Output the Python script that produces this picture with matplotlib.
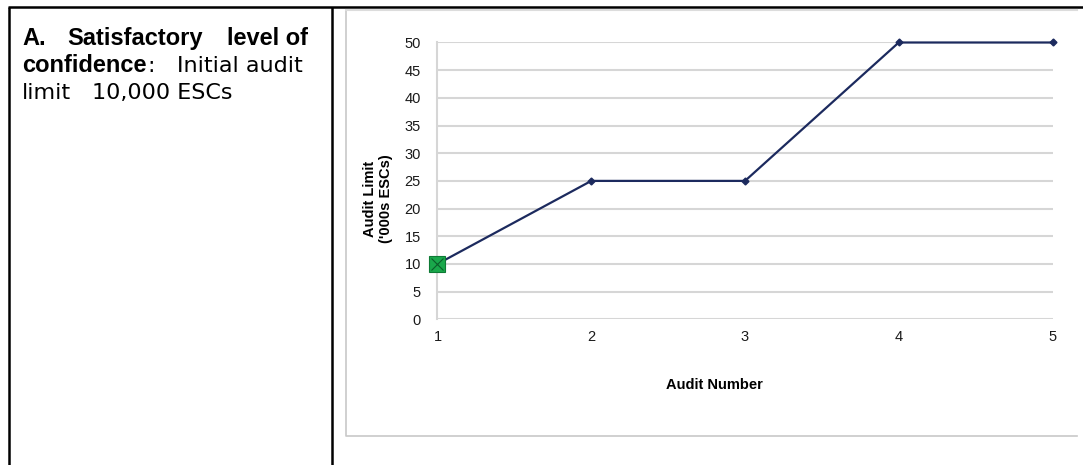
import matplotlib.pyplot as plt
from matplotlib.lines import Line2D

# 审计次数与审计上限（千个 ESC）
audit_number = [1, 2, 3, 4, 5]
audit_limit = [10, 25, 25, 50, 50]
y_ticks = [0, 5, 10, 15, 20, 25, 30, 35, 40, 45, 50]

plt.rcParams['font.family'] = ['Liberation Sans', 'DejaVu Sans']

W, H = 1083, 465
fig = plt.figure(figsize=(W / 100, H / 100), dpi=100)


def fx(px):
    return px / W


def fy(py):
    return 1 - py / H


# 表格边框
for xs, ys in [((8, W), (7, 7)), ((9, 9), (7, H)), ((332, 332), (7, H))]:
    fig.add_artist(Line2D([fx(x) for x in xs], [fy(y) for y in ys],
                          color='black', lw=1.8, solid_capstyle='butt'))

# 图表外框
fig.add_artist(Line2D([fx(346), fx(346), fx(1077)], [fy(10), fy(436), fy(436)],
                      color='#c8c8c8', lw=1.2))
fig.add_artist(Line2D([fx(346), fx(1077)], [fy(10), fy(10)], color='#dcdcdc', lw=1.5))

# 左侧说明文字：粗体用 Liberation Sans，常规字用较宽的 DejaVu Sans
bold = dict(fontsize=17, va='baseline', color='black', fontweight='bold')
reg = dict(fontsize=16, va='baseline', color='black', family=['DejaVu Sans'])
fig.text(fx(22), fy(45), 'A.', **bold)
fig.text(fx(67), fy(45), 'Satisfactory', **bold)
fig.text(fx(308), fy(45), 'level of', ha='right', **bold)
conf = fig.text(fx(22), fy(72), 'confidence', **bold)
fig.canvas.draw()
conf_right = conf.get_window_extent().x1
fig.text(conf_right / W + fx(1), fy(72), ':', **reg)
fig.text(fx(303), fy(72), 'Initial audit', ha='right', **reg)
fig.text(fx(22), fy(99), 'limit', **reg)
fig.text(fx(233), fy(99), '10,000 ESCs', ha='right', **reg)

# 折线图
ax = fig.add_axes([fx(437.5), fy(319.3), fx(1052.5) - fx(437.5), fy(42.5) - fy(319.3)])
ax.plot(audit_number, audit_limit, color='#1c2a5e', lw=1.6, marker='D',
        markersize=3.5, zorder=3, clip_on=False)
ax.plot(audit_number[0], audit_limit[0], marker='s', markersize=11,
        markerfacecolor='#19a84b', markeredgecolor='#0e7a35', markeredgewidth=0.8,
        linestyle='none', zorder=4, clip_on=False)
ax.plot(audit_number[0], audit_limit[0], marker='x', markersize=9,
        color='#0b5e2a', markeredgewidth=0.8, linestyle='none', zorder=5, clip_on=False)

ax.set_xlim(1, 5)
ax.set_ylim(0, 50)
ax.set_xticks(audit_number)
ax.set_yticks(y_ticks)
ax.tick_params(length=0, labelsize=10.5, colors='#1a1a1a')
ax.tick_params(axis='y', pad=12)
ax.tick_params(axis='x', pad=8)
ax.grid(axis='y', color='#d6d6d6', lw=1.5)
ax.set_axisbelow(True)
for side in ['top', 'right', 'bottom']:
    ax.spines[side].set_visible(False)
ax.spines['left'].set_color('#d6d6d6')
ax.spines['left'].set_linewidth(1.5)

fig.text(fx(370), fy(199), 'Audit Limit', rotation=90, fontsize=10.5,
         fontweight='bold', ha='center', va='center')
fig.text(fx(386), fy(199), "('000s ESCs)", rotation=90, fontsize=10.5,
         fontweight='bold', ha='center', va='center')
fig.text(fx(714), fy(385), 'Audit Number', fontsize=10.5, fontweight='bold',
         ha='center', va='center')

fig.savefig('out.png', dpi=100)
